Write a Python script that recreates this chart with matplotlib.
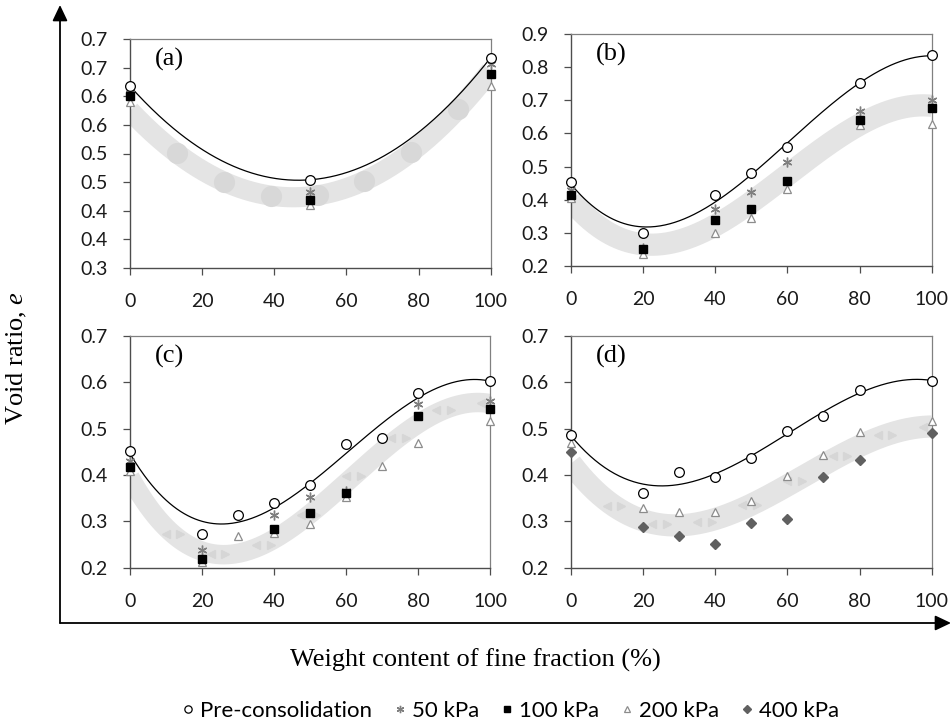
import numpy as np
import matplotlib
matplotlib.use("Agg")
import matplotlib.pyplot as plt
from matplotlib.lines import Line2D
from matplotlib.patches import FancyArrowPatch

# ---------------- data ----------------
xa = [0, 50, 100]
a_pre = [0.618, 0.454, 0.668]
a_50 = [0.606, 0.432, 0.657]
a_100 = [0.601, 0.418, 0.640]
a_200 = [0.590, 0.410, 0.618]
a_band_x = [0, 50, 100]
a_band = [0.575, 0.425, 0.645]

xb = [0, 20, 40, 50, 60, 80, 100]
b_pre = [0.452, 0.300, 0.413, 0.482, 0.558, 0.751, 0.836]
b_50 = [0.429, 0.253, 0.371, 0.424, 0.515, 0.669, 0.700]
b_100 = [0.414, 0.251, 0.338, 0.373, 0.456, 0.640, 0.676]
b_200 = [0.404, 0.235, 0.300, 0.344, 0.432, 0.624, 0.627]
b_band_x = [0, 20, 40, 60, 80, 100]
b_band = [0.400, 0.258, 0.335, 0.465, 0.630, 0.683]

xc = [0, 20, 30, 40, 50, 60, 70, 80, 100]
xc_s = [0, 20, 40, 50, 60, 80, 100]
c_pre = [0.452, 0.273, 0.314, 0.339, 0.378, 0.466, 0.479, 0.577, 0.603]
c_50 = [0.430, 0.238, 0.314, 0.353, 0.366, 0.553, 0.560]
c_100 = [0.416, 0.219, 0.284, 0.318, 0.360, 0.528, 0.543]
c_200 = [0.409, 0.212, 0.268, 0.274, 0.294, 0.353, 0.419, 0.468, 0.517]
c_band_x = [0, 25, 40, 60, 80, 100]
c_band = [0.395, 0.222, 0.280, 0.360, 0.525, 0.550]

xd = [0, 20, 30, 40, 50, 60, 70, 80, 100]
d_pre = [0.487, 0.360, 0.407, 0.395, 0.437, 0.494, 0.527, 0.582, 0.603]
d_200 = [0.468, 0.328, 0.320, 0.320, 0.344, 0.398, 0.442, 0.492, 0.517]
d_400 = [0.449, 0.288, 0.268, 0.252, 0.297, 0.306, 0.395, 0.432, 0.490]
d_band_x = [0, 30, 60, 80, 100]
d_band = [0.425, 0.290, 0.380, 0.460, 0.505]

x_ticks = [0, 20, 40, 60, 80, 100]
a_yticks = [0.30, 0.35, 0.40, 0.45, 0.50, 0.55, 0.60, 0.65, 0.70]
a_ylabels = ["0.3", "0.4", "0.4", "0.5", "0.5", "0.6", "0.6", "0.7", "0.7"]
b_yticks = [0.2, 0.3, 0.4, 0.5, 0.6, 0.7, 0.8, 0.9]
cd_yticks = [0.2, 0.3, 0.4, 0.5, 0.6, 0.7]

legend_labels = ["Pre-consolidation", "50 kPa", "100 kPa", "200 kPa", "400 kPa"]

# ---------------- style ----------------
W, H = 952, 725
plt.rcParams["mathtext.fontset"] = "custom"
plt.rcParams["mathtext.it"] = "Liberation Serif:italic"
plt.rcParams["mathtext.rm"] = "Liberation Serif"
fig = plt.figure(figsize=(W / 100, H / 100), dpi=100)
TICKFONT = "Lato"
SERIF = "Liberation Serif"
BAND = "#e4e4e4"

styles = {
    "pre": dict(marker="o", ms=7, mfc="white", mec="black", mew=0.9, ls="none"),
    "50": dict(marker=(6, 2, 0), ms=7, mec="#7f7f7f", mfc="#7f7f7f", mew=1.0, ls="none"),
    "100": dict(marker="s", ms=6.3, mfc="black", mec="black", ls="none"),
    "200": dict(marker="^", ms=6.3, mfc="white", mec="#8c8c8c", mew=0.9, ls="none"),
    "400": dict(marker="D", ms=5, mfc="#606060", mec="#606060", ls="none"),
}


def make_ax(rect, ylim, yticks, ylabels=None):
    ax = fig.add_axes([rect[0] / W, 1 - rect[3] / H, (rect[2] - rect[0]) / W, (rect[3] - rect[1]) / H])
    ax.set_xlim(0, 100)
    ax.set_ylim(*ylim)
    ax.set_xticks(x_ticks)
    ax.set_yticks(yticks)
    if ylabels is None:
        ylabels = ["%.1f" % v for v in yticks]
    ax.set_yticklabels(ylabels)
    ax.set_xticklabels([str(v) for v in x_ticks])
    for s in ["left", "bottom"]:
        ax.spines[s].set_color("#4d4d4d")
        ax.spines[s].set_linewidth(1.0)
    for s in ["top", "right"]:
        ax.spines[s].set_color("#808080")
        ax.spines[s].set_linewidth(0.9)
    ax.tick_params(axis="both", direction="out", length=5, width=0.9, color="#4d4d4d",
                   labelsize=14, labelcolor="#1a1a1a")
    ax.tick_params(axis="x", pad=13)
    ax.tick_params(axis="y", pad=11)
    for lab in ax.get_xticklabels() + ax.get_yticklabels():
        lab.set_fontfamily(TICKFONT)
    return ax


def band(ax, bx, by, deg, lw, pattern=None):
    xs = np.linspace(0, 100, 300)
    p = np.polyfit(bx, by, deg)
    ys = np.polyval(p, xs)
    ax.plot(xs, ys, color=BAND, lw=lw, solid_capstyle="butt", zorder=1)
    if pattern == "dots":
        xm = np.arange(13, 100, 13)
        ax.plot(xm, np.polyval(p, xm), ls="none", marker="o", ms=lw * 1.05,
                mfc="#d8d8d8", mec="none", zorder=1.1)
    elif pattern == "tri":
        xm = np.arange(12, 100, 12.5)
        ym = np.polyval(p, xm)
        ax.plot(xm - 2.0, ym, ls="none", marker="<", ms=5.5, color="#d6d6d6", zorder=1.1)
        ax.plot(xm + 2.0, ym, ls="none", marker=">", ms=5.5, color="#d6d6d6", zorder=1.1)


def trend(ax, x, y, deg):
    xs = np.linspace(0, 100, 300)
    ax.plot(xs, np.polyval(np.polyfit(x, y, deg), xs), color="black", lw=0.9, zorder=2)


def panel_label(ax, t):
    ax.text(0.07, 0.91, t, transform=ax.transAxes, fontsize=19, family=SERIF,
            ha="left", va="center")


# (a)
ax = make_ax((130, 39.3, 490.7, 267.7), (0.3, 0.7), a_yticks, a_ylabels)
band(ax, a_band_x, a_band, 2, 14.5, "dots")
trend(ax, xa, a_pre, 2)
ax.plot(xa, a_200, **styles["200"], zorder=3, clip_on=False)
ax.plot(xa, a_50, **styles["50"], zorder=3, clip_on=False)
ax.plot(xa, a_100, **styles["100"], zorder=3, clip_on=False)
ax.plot(xa, a_pre, **styles["pre"], zorder=4, clip_on=False)
panel_label(ax, "(a)")

# (b)
ax = make_ax((571, 34, 931.7, 266), (0.2, 0.9), b_yticks)
band(ax, b_band_x, b_band, 3, 16)
trend(ax, xb, b_pre, 3)
ax.plot(xb, b_200, **styles["200"], zorder=3, clip_on=False)
ax.plot(xb, b_50, **styles["50"], zorder=3, clip_on=False)
ax.plot(xb, b_100, **styles["100"], zorder=3, clip_on=False)
ax.plot(xb, b_pre, **styles["pre"], zorder=4, clip_on=False)
panel_label(ax, "(b)")

# (c)
ax = make_ax((130, 335.7, 490.3, 567.7), (0.2, 0.7), cd_yticks)
band(ax, c_band_x, c_band, 3, 14, "tri")
trend(ax, xc, c_pre, 3)
ax.plot(xc, c_200, **styles["200"], zorder=3, clip_on=False)
ax.plot(xc_s, c_50, **styles["50"], zorder=3, clip_on=False)
ax.plot(xc_s, c_100, **styles["100"], zorder=3, clip_on=False)
ax.plot(xc, c_pre, **styles["pre"], zorder=4, clip_on=False)
panel_label(ax, "(c)")

# (d)
ax = make_ax((571, 335.7, 931.7, 567.7), (0.2, 0.7), cd_yticks)
band(ax, d_band_x, d_band, 3, 16, "tri")
trend(ax, xd, d_pre, 3)
ax.plot(xd, d_400, **styles["400"], zorder=3, clip_on=False)
ax.plot(xd, d_200, **styles["200"], zorder=3, clip_on=False)
ax.plot(xd, d_pre, **styles["pre"], zorder=4, clip_on=False)
panel_label(ax, "(d)")

# big axes arrows (figure pixels)
corner = (60, H - 623)
for end in [(60, H - 5), (951, H - 623)]:
    arr = FancyArrowPatch(corner, end, transform=None, arrowstyle="-|>,head_length=0.8,head_width=0.38",
                          mutation_scale=12, lw=1.3, color="black", shrinkA=0, shrinkB=0)
    fig.add_artist(arr)

fig.text(475 / W, 1 - 660 / H, "Weight content of fine fraction (%)", family=SERIF,
         fontsize=19, ha="center", va="center")
fig.text(17 / W, 1 - 358 / H, "Void ratio, $\\mathit{e}$", family=SERIF, fontsize=19,
         rotation=90, ha="center", va="center")

handles = [Line2D([], [], **styles[k]) for k in ["pre", "50", "100", "200", "400"]]
for h in handles:
    h.set_markersize(h.get_markersize() * 0.75)
leg = fig.legend(handles, legend_labels, loc="center", bbox_to_anchor=(508 / W, 14 / H), ncol=5,
                 frameon=False, handletextpad=0.05, columnspacing=0.75, handlelength=1.0,
                 prop=dict(family=TICKFONT, size=16))

fig.savefig("out.png", dpi=100)
